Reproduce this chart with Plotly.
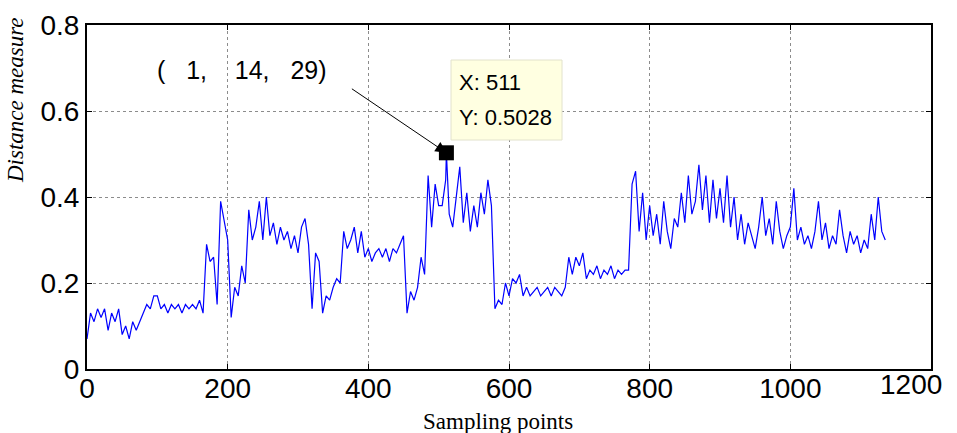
import numpy as np
import plotly.graph_objects as go

# ---- data (every 5th sampling point) ----
sample_step = 5
distance = [
    0.07, 0.13, 0.11, 0.14, 0.12, 0.14, 0.09, 0.13, 0.11, 0.14, 0.08, 0.10, 0.07, 0.11, 0.09, 0.11, 0.13, 0.15, 0.14, 0.17,   # 0-95
    0.17, 0.14, 0.15, 0.13, 0.15, 0.14, 0.15, 0.13, 0.15, 0.14, 0.15, 0.14, 0.16, 0.13, 0.29, 0.25, 0.26, 0.15, 0.39, 0.34,   # 100-195
    0.30, 0.12, 0.19, 0.17, 0.24, 0.20, 0.37, 0.30, 0.33, 0.39, 0.30, 0.40, 0.31, 0.34, 0.29, 0.33, 0.30, 0.32, 0.28, 0.31,   # 200-295
    0.27, 0.33, 0.35, 0.29, 0.14, 0.27, 0.25, 0.13, 0.17, 0.16, 0.19, 0.21, 0.20, 0.32, 0.28, 0.30, 0.33, 0.27, 0.32, 0.26,   # 300-395
    0.28, 0.25, 0.27, 0.28, 0.26, 0.28, 0.25, 0.28, 0.27, 0.29, 0.31, 0.13, 0.18, 0.16, 0.19, 0.26, 0.22, 0.45, 0.33, 0.43,   # 400-495
    0.38, 0.38, 0.44, 0.36, 0.33, 0.40, 0.47, 0.34, 0.41, 0.32, 0.38, 0.33, 0.41, 0.36, 0.44, 0.38, 0.14, 0.16, 0.15, 0.20,   # 500-595
    0.17, 0.21, 0.20, 0.22, 0.17, 0.19, 0.17, 0.18, 0.19, 0.17, 0.18, 0.19, 0.17, 0.19, 0.18, 0.17, 0.19, 0.26, 0.22, 0.26,   # 600-695
    0.24, 0.27, 0.21, 0.23, 0.22, 0.24, 0.21, 0.23, 0.22, 0.24, 0.21, 0.23, 0.22, 0.23, 0.23, 0.43, 0.46, 0.32, 0.41, 0.30,   # 700-795
    0.38, 0.31, 0.36, 0.29, 0.39, 0.32, 0.28, 0.35, 0.33, 0.41, 0.34, 0.45, 0.36, 0.39, 0.475, 0.37, 0.45, 0.34, 0.44, 0.35,  # 800-895
    0.42, 0.34, 0.45, 0.33, 0.40, 0.30, 0.36, 0.29, 0.34, 0.31, 0.28, 0.33, 0.40, 0.31, 0.35, 0.29, 0.39, 0.32, 0.28, 0.31,   # 900-995
    0.33, 0.42, 0.30, 0.33, 0.29, 0.31, 0.28, 0.32, 0.39, 0.30, 0.34, 0.28, 0.31, 0.29, 0.37, 0.31, 0.27, 0.32, 0.29, 0.31,   # 1000-1095
    0.27, 0.30, 0.28, 0.36, 0.30, 0.40, 0.32, 0.30,                                                                           # 1100-1135
]
tip_x = 511
tip_y = 0.5028

x_ticks = [0, 200, 400, 600, 800, 1000, 1200]
x_tick_text = ["0", "200", "400", "600", "800", "1000", "1200"]
y_ticks = [0, 0.2, 0.4, 0.6, 0.8]
y_tick_text = ["0", "0.2", "0.4", "0.6", "0.8"]
x_title = "Sampling points"
y_title = "Distance measure"
combo_nums = ["1", "14", "29"]

# merge the data-tip sample into the series
xs = [i * sample_step for i in range(len(distance))]
pts = sorted(list(zip(xs, distance)) + [(tip_x, tip_y)])
px_, py_ = zip(*pts)

W, H = 957, 433
L, R, T, B = 87, 26, 25, 64
pw, ph = W - L - R, H - T - B

def paper_x(p):
    return (p - L) / pw

def paper_y(p):
    return (H - B - p) / ph

fig = go.Figure()
fig.add_trace(go.Scatter(x=list(px_), y=list(py_), mode="lines",
                         line=dict(color="#0000FF", width=1.2), showlegend=False))
fig.add_trace(go.Scatter(x=[tip_x], y=[tip_y], mode="markers",
                         marker=dict(symbol="square", size=15, color="black"),
                         showlegend=False))

tick_font = dict(family="Liberation Sans, Arial", size=28, color="black")
axis_common = dict(showline=True, linecolor="black", linewidth=2, mirror="allticks",
                   ticks="inside", ticklen=5, tickcolor="black", tickwidth=1,
                   showgrid=True, gridcolor="#8c8c8c", gridwidth=1, griddash="dot",
                   zeroline=False, tickfont=tick_font, automargin=False)

# the last x label is drawn separately, a little left of its tick, so it stays on the page
x_tick_labels = x_tick_text[:-1] + [""]

fig.update_layout(
    width=W, height=H,
    margin=dict(l=L, r=R, t=T, b=B),
    paper_bgcolor="white", plot_bgcolor="white",
    xaxis=dict(range=[0, 1200], tickvals=x_ticks, ticktext=x_tick_labels,
               ticklabelstandoff=-7, **axis_common),
    yaxis=dict(range=[0, 0.8], tickvals=y_ticks, ticktext=y_tick_text, **axis_common),
    showlegend=False,
)
fig.add_annotation(xref="paper", yref="paper", x=paper_x(911), y=paper_y(384),
                   xanchor="center", yanchor="middle", showarrow=False,
                   text=x_tick_text[-1], font=tick_font)

# data-tip box
fig.add_shape(type="rect", xref="paper", yref="paper",
              x0=paper_x(451), x1=paper_x(562), y0=paper_y(140), y1=paper_y(60),
              fillcolor="#FFFFE1", line=dict(color="#E2E2CC", width=1), layer="above")
fig.add_annotation(xref="paper", yref="paper", x=paper_x(457), y=paper_y(83),
                   xanchor="left", yanchor="middle", showarrow=False,
                   text=f"X: {tip_x}", font=dict(family="Liberation Sans, Arial", size=22, color="black"))
fig.add_annotation(xref="paper", yref="paper", x=paper_x(457), y=paper_y(117),
                   xanchor="left", yanchor="middle", showarrow=False,
                   text=f"Y: {tip_y}", font=dict(family="Liberation Sans, Arial", size=22, color="black"))

# arrow to the data tip
fig.add_annotation(x=tip_x, y=tip_y, xref="x", yref="y", text="", showarrow=True,
                   ax=-96, ay=-65, arrowhead=2, arrowsize=2.2, arrowwidth=1,
                   arrowcolor="black", standoff=0)
# combination label
gap3 = "&nbsp;" * 3
gap4 = "&nbsp;" * 4
combo_label = "(" + gap3 + combo_nums[0] + "," + gap4 + combo_nums[1] + "," + gap3 + combo_nums[2] + ")"
fig.add_annotation(xref="paper", yref="paper", x=paper_x(242), y=paper_y(70),
                   xanchor="center", yanchor="middle", showarrow=False, text=combo_label,
                   font=dict(family="Liberation Sans, Arial", size=25, color="black"))

# axis titles
fig.add_annotation(xref="paper", yref="paper", x=paper_x(498), y=paper_y(421),
                   xanchor="center", yanchor="middle", showarrow=False, text=x_title,
                   font=dict(family="Liberation Serif, Times New Roman", size=23, color="black"))
fig.add_annotation(xref="paper", yref="paper", x=paper_x(15), y=paper_y(100),
                   xanchor="center", yanchor="middle", showarrow=False, textangle=-90,
                   text=f"<i>{y_title}</i>",
                   font=dict(family="Liberation Serif, Times New Roman", size=23, color="black"))

fig.write_html("out.html")
